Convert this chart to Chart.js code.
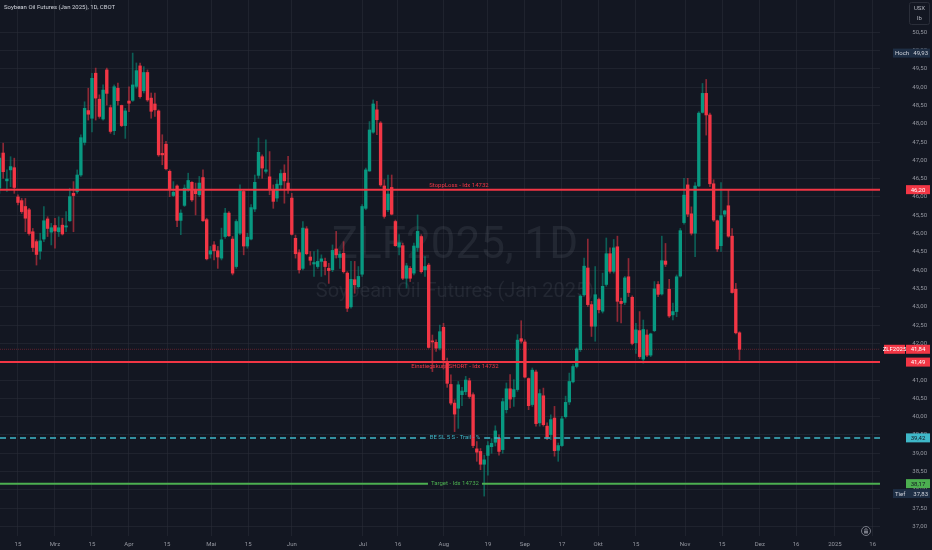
<!DOCTYPE html>
<html lang="de">
<head>
  <meta charset="UTF-8">
  <title>ZLF2025, 1D</title>
  <script src="https://cdn.jsdelivr.net/npm/chart.js@4.4.0/dist/chart.umd.min.js"></script>
  <style>
    html, body { margin: 0; padding: 0; background: #131722; }
    canvas { display: block; }
  </style>
</head>
<body>
  <canvas id="chart" width="932" height="550"></canvas>

  <script>
    // daily candles, Feb 9 - Nov 21 (index = trading day)
    const opens = [
      46.24, 47.2, 46.44, 46.74, 46.8, 46.0, 45.9, 45.74, 45.65, 45.05,
      44.78, 44.52, 44.85, 45.4, 45.04, 45.22, 45.05, 45.23, 45.18, 45.35,
      46.1, 46.15, 46.6, 47.49, 48.36, 48.15, 49.38, 48.67, 48.13, 49.47,
      48.44, 47.81, 48.97, 48.5, 47.95, 48.62, 48.64, 49.02, 49.58, 48.9,
      49.4, 48.7, 48.54, 48.35, 47.19, 47.44, 46.7, 46.04, 46.3, 45.36,
      45.77, 46.21, 46.4, 46.21, 46.06, 46.53, 45.38, 44.44, 44.69, 44.53,
      44.33, 44.92, 45.56, 44.85, 44.1, 45.01, 46.15, 44.66, 44.85, 45.67,
      46.59, 47.1, 46.7, 46.55, 46.2, 45.97, 46.33, 46.65, 46.38, 45.97,
      44.87, 44.48, 44.05, 45.13, 44.36, 44.17, 44.1, 44.24, 44.24, 44.05,
      44.01, 44.58, 44.35, 44.46, 43.92, 43.0, 43.74, 43.55, 43.89, 45.69,
      46.71, 47.77, 48.38, 48.02, 46.3, 45.65, 46.26, 45.33, 44.63, 44.67,
      43.78, 44.05, 43.92, 44.62, 44.92, 44.01, 44.14, 42.07, 42.03, 41.87,
      42.44, 41.5, 40.88, 40.37, 40.23, 40.6, 40.68, 40.98, 40.6, 39.12,
      39.05, 38.7, 38.94, 39.18, 39.3, 39.41, 39.1, 40.19, 40.76, 40.54,
      40.74, 42.13, 42.04, 41.04, 40.33, 41.22, 39.83, 40.57, 39.74, 39.51,
      39.96, 39.08, 39.21, 40.0, 40.4, 40.95, 41.37, 41.83, 43.33, 44.06,
      43.06, 42.47, 43.2, 42.88, 43.61, 44.45, 43.97, 44.64, 43.15, 43.12,
      43.82, 43.26, 42.02, 42.35, 41.57, 42.23, 41.68, 42.35, 43.61, 43.35,
      44.25, 43.48, 42.78, 42.87, 43.84, 45.3, 46.33, 45.54, 45.01, 46.3,
      48.31, 48.83, 48.24, 46.36, 45.35, 44.67, 45.53, 45.76, 44.93, 43.48,
      42.29
    ];
    const highs = [
      47.2, 47.47, 46.74, 47.1, 47.06, 46.06, 45.96, 45.96, 45.69, 45.14,
      44.83, 45.01, 45.74, 45.46, 45.28, 45.42, 45.46, 45.42, 45.6, 46.24,
      46.42, 46.74, 47.7, 48.6, 48.97, 49.38, 49.52, 48.79, 49.06, 49.52,
      48.51, 49.06, 49.11, 48.51, 48.42, 49.01, 49.93, 49.66, 49.66, 49.56,
      49.47, 48.84, 48.84, 48.38, 47.7, 47.52, 46.74, 46.42, 46.33, 45.65,
      46.33, 46.65, 46.42, 46.38, 46.56, 46.74, 45.42, 44.65, 44.78, 44.65,
      45.15, 45.69, 45.6, 44.92, 45.38, 46.33, 46.2, 45.01, 45.79, 46.6,
      47.61, 47.15, 47.56, 47.24, 46.33, 46.47, 46.74, 46.88, 47.11, 46.1,
      44.96, 44.56, 45.33, 45.19, 44.51, 44.51, 44.56, 44.42, 44.33, 44.19,
      44.69, 45.06, 44.51, 44.78, 43.96, 44.24, 44.24, 44.1, 45.79, 46.79,
      48.06, 48.65, 48.61, 48.06, 46.47, 46.6, 46.6, 45.37, 44.97, 44.74,
      44.19, 44.1, 44.74, 45.51, 44.97, 44.37, 44.19, 42.23, 42.1, 42.5,
      42.55, 41.6, 41.14, 40.46, 40.96, 40.8, 41.1, 41.05, 40.65, 39.32,
      39.13, 38.95, 39.32, 39.4, 39.75, 39.5, 40.5, 40.92, 41.15, 41.01,
      42.24, 42.62, 42.1, 41.06, 41.33, 41.27, 40.74, 40.78, 39.83, 40.05,
      40.28, 39.28, 40.01, 40.56, 41.19, 41.42, 41.88, 43.33, 44.33, 44.85,
      43.15, 44.1, 43.24, 43.92, 44.88, 44.61, 44.84, 44.93, 43.24, 43.83,
      44.32, 43.3, 42.55, 42.87, 42.64, 42.37, 42.28, 43.69, 43.69, 44.93,
      44.73, 43.75, 43.1, 43.87, 45.14, 46.51, 46.51, 45.73, 46.39, 48.33,
      49.1, 49.21, 48.29, 46.47, 45.37, 46.39, 45.64, 46.19, 45.14, 43.64,
      42.32
    ];
    const lows = [
      46.1, 46.51, 46.15, 46.28, 46.1, 45.78, 45.55, 45.05, 44.96, 44.51,
      44.14, 44.3, 44.78, 44.92, 44.69, 44.6, 44.92, 44.96, 45.05, 45.33,
      45.05, 46.1, 46.56, 47.42, 48.1, 47.78, 48.1, 48.15, 48.1, 48.51,
      47.74, 47.7, 48.51, 47.92, 47.6, 48.33, 48.61, 48.97, 48.7, 48.84,
      48.61, 48.15, 48.2, 47.11, 46.88, 46.74, 46.01, 46.01, 45.19, 44.97,
      45.74, 46.15, 45.88, 45.51, 46.01, 45.33, 44.28, 44.33, 44.28, 44.05,
      44.28, 44.87, 44.92, 43.87, 44.05, 44.97, 44.42, 44.6, 44.83, 45.6,
      46.51, 46.51, 46.65, 46.06, 45.69, 45.88, 46.2, 45.83, 46.1, 44.96,
      44.33, 43.92, 44.01, 44.42, 44.14, 43.83, 44.05, 43.83, 43.87, 43.64,
      43.96, 44.33, 44.05, 43.92, 42.87, 42.96, 43.37, 43.51, 43.83, 45.65,
      46.7, 47.74, 47.7, 46.29, 45.42, 45.6, 45.51, 44.65, 44.42, 43.74,
      43.51, 43.69, 43.87, 44.51, 43.92, 43.83, 41.87, 41.23, 41.78, 41.82,
      41.3, 40.8, 40.32, 39.59, 39.68, 40.3, 40.6, 40.5, 39.15, 38.78,
      38.55, 37.83, 38.4, 39.0, 39.2, 38.95, 39.0, 40.1, 40.24, 40.28,
      40.69, 42.01, 41.06, 40.19, 40.28, 39.74, 39.74, 39.74, 39.37, 39.37,
      38.92, 38.78, 39.19, 39.96, 40.33, 40.92, 41.33, 41.78, 43.29, 43.01,
      42.19, 42.06, 42.83, 42.83, 43.56, 43.92, 43.92, 42.6, 42.56, 43.06,
      43.28, 41.96, 41.73, 41.59, 41.46, 41.64, 41.64, 42.32, 43.28, 43.32,
      44.1, 42.71, 42.64, 42.73, 43.81, 45.26, 45.46, 44.96, 44.37, 46.28,
      48.29, 47.69, 46.28, 45.33, 44.51, 44.51, 45.46, 44.9, 43.37, 42.26,
      41.55
    ];
    const closes = [
      47.06, 46.69, 46.49, 46.83, 46.26, 45.85, 45.6, 45.42, 45.0, 44.62,
      44.43, 44.8, 45.35, 45.14, 45.16, 45.07, 45.16, 44.99, 45.21, 46.01,
      46.04, 46.6, 47.62, 48.42, 48.26, 49.24, 48.7, 48.2, 48.92, 48.83,
      47.79, 49.01, 48.63, 47.95, 48.35, 48.56, 49.06, 49.45, 48.74, 49.4,
      48.65, 48.34, 48.38, 47.15, 47.15, 46.77, 46.2, 46.13, 45.36, 45.56,
      46.24, 46.45, 45.92, 46.09, 46.38, 45.35, 44.31, 44.53, 44.53, 44.36,
      44.83, 45.56, 44.94, 43.92, 45.33, 46.17, 44.66, 44.9, 45.71, 46.4,
      47.22, 46.79, 46.74, 46.2, 45.88, 46.35, 46.64, 46.44, 46.22, 44.98,
      44.45, 44.01, 45.15, 44.45, 44.27, 44.21, 44.24, 44.31, 44.1, 43.99,
      44.54, 44.42, 44.44, 43.96, 42.96, 43.75, 43.6, 43.83, 45.74, 46.74,
      47.83, 48.54, 48.11, 46.33, 45.47, 46.08, 45.53, 44.67, 44.75, 43.78,
      44.12, 43.78, 44.66, 45.06, 43.96, 44.1, 41.89, 42.04, 41.87, 42.32,
      41.55, 40.91, 40.37, 40.07, 40.87, 40.7, 41.0, 40.55, 39.21, 39.03,
      38.7, 38.82, 39.21, 39.27, 39.61, 39.05, 40.41, 40.76, 40.48, 40.74,
      42.09, 42.06, 41.08, 40.3, 41.27, 39.81, 40.63, 39.78, 39.44, 39.92,
      39.07, 39.21, 39.94, 40.39, 40.96, 41.37, 41.85, 43.29, 44.11, 43.06,
      42.47, 43.33, 42.92, 43.56, 44.45, 43.97, 44.61, 43.15, 43.09, 43.79,
      43.39, 42.0, 42.37, 41.64, 42.38, 41.68, 42.26, 43.49, 43.34, 44.26,
      44.16, 42.75, 42.87, 43.82, 45.08, 46.05, 45.53, 45.01, 46.3, 48.29,
      48.83, 48.24, 46.36, 45.37, 44.58, 45.49, 45.62, 44.93, 43.39, 42.29,
      41.84
    ];

    // time axis labels and the bar index where each one sits
    const xTickLabels = ['15', 'Mrz', '15', 'Apr', '15', 'Mai', '15', 'Jun', 'Jul', '16', 'Aug',
                         '19', 'Sep', '17', 'Okt', '15', 'Nov', '15', 'Dez', '16', '2025', '16'];
    const xTickPos = [5, 15, 25, 35, 45.3, 57.2, 67.2, 79, 98.2, 107.7, 120.1,
                      132, 142, 152, 161.8, 172, 185.3, 195.3, 205.5, 215.3, 225.8, 236];

    // drawn levels
    const levelNames = ['StoppLoss - Idx 14732', 'Einstiegskurs SHORT - Idx 14732', 'BE SL 5 S - Trail - %', 'Target - Idx 14732'];
    const levelValues = [46.20, 41.49, 39.42, 38.17];

    const UP = '#089981';
    const DOWN = '#f23645';
    const TEXT = '#9598a1';
    const GRID = 'rgba(42, 46, 57, 0.55)';
    const FONT = 'Roboto, "Noto Sans", sans-serif';

    const fmt = v => v.toFixed(2).replace('.', ',');

    const bodies = closes.map((c, i) => ({ x: i, y: [opens[i], c] }));
    const wicks = closes.map((c, i) => ({ x: i, y: [lows[i], highs[i]] }));
    const bodyColors = closes.map((c, i) => c >= opens[i] ? UP : DOWN);
    const wickColors = closes.map((c, i) => c >= opens[i] ? 'rgba(8, 153, 129, 0.55)' : 'rgba(242, 54, 69, 0.55)');

    function box(ctx, x0, x1, y, bg, fg, text, align) {
      const h = 9;
      ctx.fillStyle = bg;
      ctx.fillRect(x0, y - h / 2, x1 - x0, h);
      ctx.fillStyle = fg;
      ctx.font = '6px ' + FONT;
      ctx.textBaseline = 'middle';
      ctx.textAlign = align || 'center';
      const tx = align === 'left' ? x0 + 2 : align === 'right' ? x1 - 2 : (x0 + x1) / 2;
      ctx.fillText(text, tx, y + 0.5);
    }

    function hLine(ctx, area, y, color, width, dash, gap) {
      ctx.save();
      ctx.strokeStyle = color;
      ctx.lineWidth = width;
      ctx.setLineDash(dash || []);
      ctx.beginPath();
      if (gap) {
        ctx.moveTo(area.left, y); ctx.lineTo(gap[0], y);
        ctx.moveTo(gap[1], y); ctx.lineTo(area.right, y);
      } else {
        ctx.moveTo(area.left, y); ctx.lineTo(area.right, y);
      }
      ctx.stroke();
      ctx.restore();
    }

    const overlay = {
      id: 'overlay',
      beforeDraw(chart) {
        const ctx = chart.ctx;
        ctx.save();
        ctx.fillStyle = '#131722';
        ctx.fillRect(0, 0, chart.width, chart.height);
        ctx.restore();
      },
      beforeDatasetsDraw(chart) {
        const { ctx, chartArea: a } = chart;
        const cx = a.left + a.width * 0.517;
        ctx.save();
        ctx.fillStyle = 'rgba(120, 123, 134, 0.16)';
        ctx.textAlign = 'center';
        ctx.textBaseline = 'middle';
        ctx.font = '44px ' + FONT;
        ctx.fillText('ZLF2025, 1D', cx, a.top + a.height * 0.46);
        ctx.font = '20px ' + FONT;
        ctx.fillText('Soybean Oil Futures (Jan 2025)', cx, a.top + a.height * 0.545);
        ctx.restore();
      },
      afterDatasetsDraw(chart) {
        const { ctx, chartArea: a, scales: { y } } = chart;
        const cx = a.left + a.width * 0.517;
        const last = closes[closes.length - 1];

        // last price
        hLine(ctx, a, y.getPixelForValue(last), 'rgba(242, 54, 69, 0.35)', 1, [1, 1]);

        ctx.save();
        ctx.font = '6px ' + FONT;
        ctx.textAlign = 'center';

        // stop loss
        let py = y.getPixelForValue(levelValues[0]);
        hLine(ctx, a, py, DOWN, 2);
        ctx.fillStyle = DOWN;
        ctx.textBaseline = 'bottom';
        ctx.fillText(levelNames[0], cx + 4, py - 1);

        // entry short
        py = y.getPixelForValue(levelValues[1]);
        hLine(ctx, a, py, DOWN, 2);
        ctx.textBaseline = 'top';
        ctx.fillText(levelNames[1], cx, py + 1.5);

        // break even, dashed
        py = y.getPixelForValue(levelValues[2]);
        ctx.textBaseline = 'middle';
        let w = ctx.measureText(levelNames[2]).width;
        hLine(ctx, a, py, '#3fb8c9', 1.5, [6, 4], [cx - w / 2 - 4, cx + w / 2 + 4]);
        ctx.fillStyle = '#3fb8c9';
        ctx.fillText(levelNames[2], cx, py);

        // target
        py = y.getPixelForValue(levelValues[3]);
        w = ctx.measureText(levelNames[3]).width;
        hLine(ctx, a, py, '#4caf50', 2, null, [cx - w / 2 - 3, cx + w / 2 + 3]);
        ctx.fillStyle = '#4caf50';
        ctx.fillText(levelNames[3], cx, py);
        ctx.restore();
      },
      afterDraw(chart) {
        const { ctx, chartArea: a, scales: { y } } = chart;
        const r = chart.width - 2;
        const vx = a.right + 26;
        const hi = Math.max(...highs);
        const lo = Math.min(...lows);
        const last = closes[closes.length - 1];
        ctx.save();

        box(ctx, a.right + 13, r, y.getPixelForValue(hi), '#1e2e44', '#d1d4dc', 'Hoch', 'left');
        box(ctx, a.right + 13, r, y.getPixelForValue(hi), 'rgba(0,0,0,0)', '#d1d4dc', fmt(hi), 'right');
        box(ctx, vx, r, y.getPixelForValue(levelValues[0]), DOWN, '#ffffff', fmt(levelValues[0]));
        box(ctx, a.right + 4, vx - 1, y.getPixelForValue(last), DOWN, '#ffffff', 'ZLF2025');
        box(ctx, vx, r, y.getPixelForValue(last), DOWN, '#ffffff', fmt(last));
        box(ctx, vx, r, y.getPixelForValue(levelValues[1]), DOWN, '#ffffff', fmt(levelValues[1]));
        box(ctx, vx, r, y.getPixelForValue(levelValues[2]), '#3fb8c9', '#131722', fmt(levelValues[2]));
        box(ctx, vx, r, y.getPixelForValue(levelValues[3]), '#4caf50', '#131722', fmt(levelValues[3]));
        box(ctx, a.right + 13, r, y.getPixelForValue(lo) - 2.5, '#1e2e44', '#d1d4dc', 'Tief', 'left');
        box(ctx, a.right + 13, r, y.getPixelForValue(lo) - 2.5, 'rgba(0,0,0,0)', '#d1d4dc', fmt(lo), 'right');

        // title
        ctx.fillStyle = '#d1d4dc';
        ctx.font = '6px ' + FONT;
        ctx.textAlign = 'left';
        ctx.textBaseline = 'middle';
        ctx.fillText('Soybean Oil Futures (Jan 2025), 1D, CBOT', 4, 7);

        // currency / unit box
        ctx.fillStyle = '#131722';
        ctx.fillRect(909, 2, 21, 23);
        ctx.strokeStyle = '#2a2e39';
        ctx.lineWidth = 1;
        ctx.beginPath();
        ctx.roundRect(909.5, 2.5, 20, 22, 2);
        ctx.stroke();
        ctx.fillStyle = '#b2b5be';
        ctx.textAlign = 'center';
        ctx.fillText('USX', 919.5, 8.5);
        ctx.fillText('lb', 919.5, 18);

        // lock icon
        const lx = a.right - 14, ly = a.bottom - 5;
        ctx.strokeStyle = '#787b86';
        ctx.beginPath();
        ctx.arc(lx, ly, 4.5, 0, Math.PI * 2);
        ctx.stroke();
        ctx.beginPath();
        ctx.arc(lx, ly - 1, 1.3, Math.PI, 0);
        ctx.stroke();
        ctx.fillStyle = '#787b86';
        ctx.fillRect(lx - 2, ly - 0.5, 4, 3);
        ctx.restore();
      }
    };

    const ctx = document.getElementById('chart').getContext('2d');
    const chart = new Chart(ctx, {
      type: 'bar',
      data: {
        datasets: [
          { label: 'Körper', data: bodies, backgroundColor: bodyColors, barThickness: 2.7, grouped: false, order: 0 },
          { label: 'Docht', data: wicks, backgroundColor: wickColors, barThickness: 1, grouped: false, order: 1 }
        ]
      },
      options: {
        responsive: false,
        animation: false,
        layout: { padding: { left: 0, right: 5, top: 0, bottom: 0 } },
        plugins: { legend: { display: false }, tooltip: { enabled: false } },
        scales: {
          x: {
            type: 'linear',
            min: 0.14,
            max: 237.97,
            offset: false,
            grid: { offset: false, color: GRID, drawTicks: false },
            border: { display: false },
            afterBuildTicks: s => { s.ticks = xTickPos.map(v => ({ value: v })); },
            afterFit: s => { s.height = 14; s.paddingLeft = 0; s.paddingRight = 0; },
            ticks: {
              autoSkip: false,
              maxRotation: 0,
              padding: 5,
              color: TEXT,
              font: { family: FONT, size: 6 },
              callback: (v, i) => xTickLabels[i]
            }
          },
          y: {
            position: 'right',
            min: 36.74,
            max: 51.38,
            grid: { color: GRID, drawTicks: false },
            border: { display: false },
            afterBuildTicks: s => {
              s.ticks = s.ticks.filter(t => t.value <= 50.5 &&
                Math.abs(t.value * 2 - Math.round(t.value * 2)) < 1e-6);
            },
            afterFit: s => { s.width = 47; s.paddingTop = 0; s.paddingBottom = 0; },
            ticks: {
              stepSize: 0.5,
              crossAlign: 'far',
              color: TEXT,
              font: { family: FONT, size: 6 },
              callback: v => fmt(v)
            }
          }
        }
      },
      plugins: [overlay]
    });
  </script>
</body>
</html>
